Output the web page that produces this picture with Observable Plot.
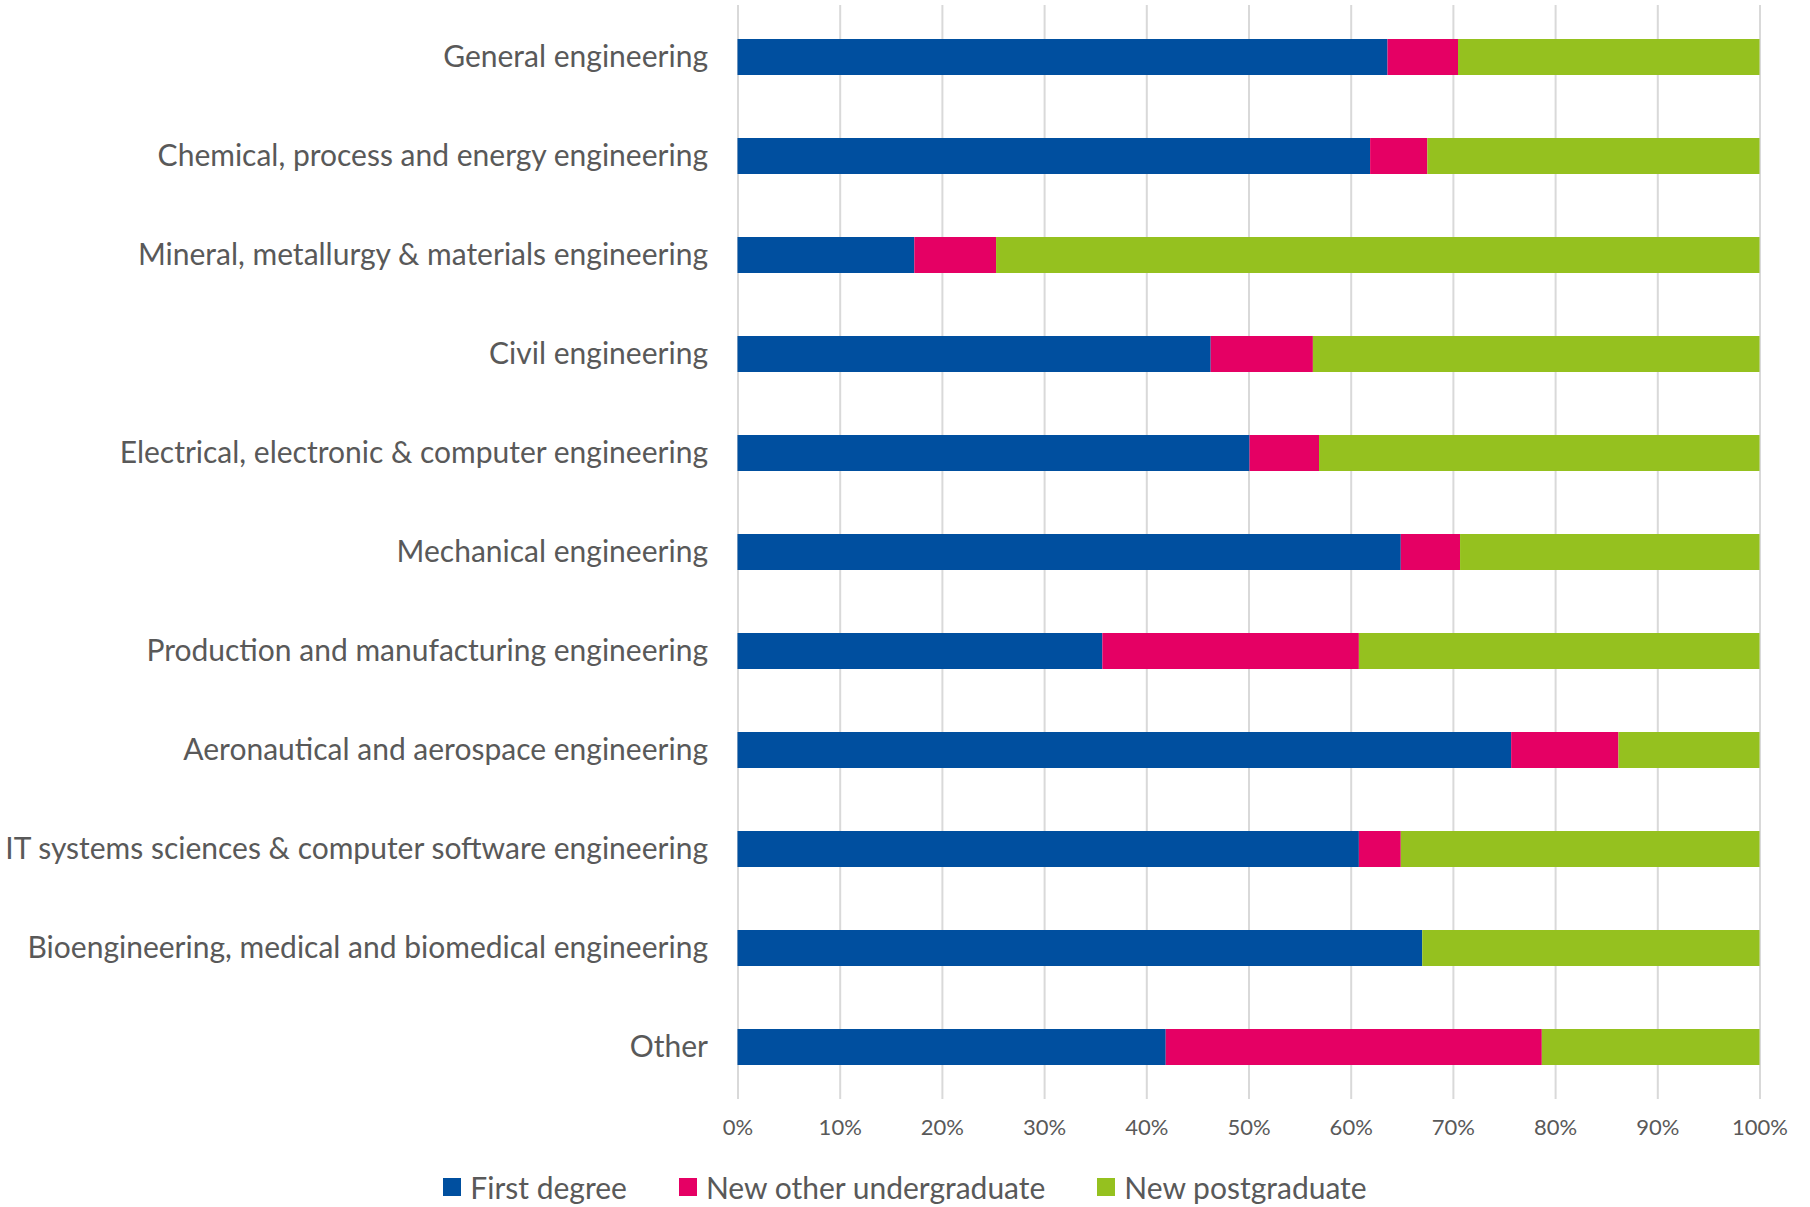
<!DOCTYPE html>
<html>
<head>
<meta charset="utf-8">
<script src="https://cdn.jsdelivr.net/npm/d3@7"></script>
<script src="https://cdn.jsdelivr.net/npm/@observablehq/plot@0.6"></script>
<style>
  html, body { margin: 0; padding: 0; background: #ffffff; }
  #chart { width: 1810px; }
  #legend {
    width: 1810px; height: 40px; margin-top: 1px;
    display: flex; justify-content: center; align-items: center;
    font-family: Lato, "Open Sans", sans-serif; font-size: 30px; color: #595959;
  }
  .item { display: flex; align-items: center; margin: 0 26px; }
  .sw { width: 18px; height: 18px; margin-right: 9px; }
</style>
</head>
<body>
<div id="chart"></div>
<div id="legend"></div>
<script>
const categories = [
  "General engineering",
  "Chemical, process and energy engineering",
  "Mineral, metallurgy & materials engineering",
  "Civil engineering",
  "Electrical, electronic & computer engineering",
  "Mechanical engineering",
  "Production and manufacturing engineering",
  "Aeronautical and aerospace engineering",
  "IT systems sciences & computer software engineering",
  "Bioengineering, medical and biomedical engineering",
  "Other"
];
const seriesNames = ["First degree", "New other undergraduate", "New postgraduate"];
const firstDegree      = [63.6, 61.9, 17.3, 46.3, 50.1, 64.9, 35.7, 75.7, 60.8, 67.0, 41.9];
const newOtherUG       = [ 6.9,  5.6,  8.0, 10.0,  6.8,  5.8, 25.1, 10.5,  4.1,  0.0, 36.8];
const newPostgraduate  = [29.5, 32.5, 74.7, 43.7, 43.1, 29.3, 39.2, 13.8, 35.1, 33.0, 21.3];
const seriesColors = ["#004F9F", "#E50064", "#95C11F"];
const xTicks = [0, 10, 20, 30, 40, 50, 60, 70, 80, 90, 100];

const seriesValues = [firstDegree, newOtherUG, newPostgraduate];
const table = seriesNames.flatMap((s, si) =>
  categories.map((c, ci) => ({category: c, series: s, value: seriesValues[si][ci]}))
);

const chart = Plot.plot({
  width: 1810,
  height: 1166,
  marginLeft: 737.5,
  marginRight: 50.5,
  marginTop: 5,
  marginBottom: 67,
  style: {fontFamily: "Lato, 'Open Sans', sans-serif", color: "#595959", background: "#ffffff"},
  x: {domain: [0, 100]},
  y: {domain: categories, paddingInner: 0.641, paddingOuter: 0.318},
  color: {domain: seriesNames, range: seriesColors},
  marks: [
    Plot.gridX(xTicks, {stroke: "#d9d9d9", strokeOpacity: 1, strokeWidth: 2}),
    Plot.barX(table, Plot.stackX({
      x: "value", y: "category", fill: "series", order: seriesNames
    })),
    Plot.axisX(xTicks, {
      tickSize: 0, tickPadding: 20, fontSize: 22, fill: "#595959",
      tickFormat: d => d + "%", label: null
    }),
    Plot.axisY({tickSize: 0, tickPadding: 30, fontSize: 30, fill: "#595959", label: null})
  ]
});
document.getElementById("chart").appendChild(chart);

const legend = document.getElementById("legend");
seriesNames.forEach((s, i) => {
  const item = document.createElement("div");
  item.className = "item";
  const sw = document.createElement("div");
  sw.className = "sw";
  sw.style.background = seriesColors[i];
  const t = document.createElement("span");
  t.textContent = s;
  item.appendChild(sw);
  item.appendChild(t);
  legend.appendChild(item);
});
</script>
</body>
</html>
